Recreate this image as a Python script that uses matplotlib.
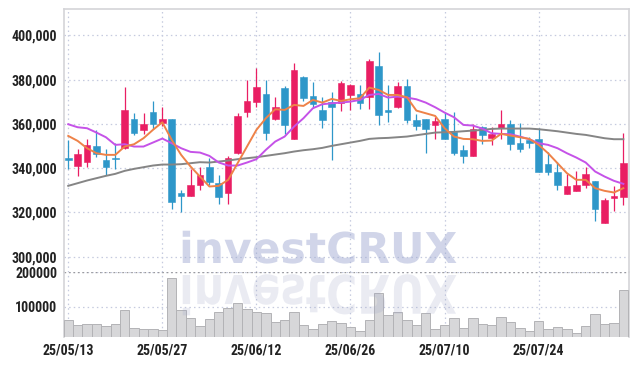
#!/usr/bin/env python3
# -*- coding: utf-8 -*-
"""
일봉 캔들 차트 + 이동평균 + 거래량 재현
"""

import matplotlib
matplotlib.use("Agg")
import matplotlib.pyplot as plt
from matplotlib.textpath import TextPath
from matplotlib.patches import PathPatch
from matplotlib.font_manager import FontProperties
from matplotlib.transforms import Affine2D
from matplotlib.ticker import FuncFormatter

# 시가 / 고가 / 저가 / 종가 (60 거래일)
opens = [344500, 341200, 343000, 350050, 343750, 344400, 349000, 362250, 357450, 365400,
         360300, 362250, 328850, 327650, 332600, 340600, 333500, 329000, 346750, 365550,
         370050, 373550, 362250, 376250, 353400, 381200, 372650, 366300, 369900, 369600,
         373100, 373550, 372350, 386150, 366300, 367800, 377150, 361800, 362250, 359550,
         362250, 356550, 348250, 345700, 358500, 353850, 358350, 360000, 351250, 352750,
         353250, 341950, 338200, 328400, 329900, 332300, 334300, 315150, 326750, 327200]
highs = [352800, 348550, 353100, 357300, 348550, 351250, 376850, 364800, 364800, 370350,
         367500, 362250, 330050, 339550, 340750, 344500, 336850, 345550, 364800, 379850,
         385100, 379850, 372050, 377150, 387650, 381500, 378800, 372050, 374450, 379250,
         378050, 377450, 389150, 392350, 377450, 378950, 380150, 364350, 362250, 363300,
         364800, 365550, 350650, 360000, 359100, 358500, 366300, 361800, 360600, 354000,
         358050, 347500, 343000, 337450, 338500, 340450, 334300, 326450, 332000, 355800]
lows = [339500, 336550, 340600, 345250, 336700, 339550, 348700, 354900, 355350, 357900,
        359100, 321500, 320150, 327650, 330200, 332450, 323900, 323900, 346450, 363300,
        367800, 352600, 361950, 355350, 353100, 370200, 367500, 358050, 343750, 366000,
        366300, 366600, 366600, 359400, 360900, 367050, 360300, 357300, 346750, 353100,
        353100, 346000, 342250, 345700, 350950, 350500, 353250, 348250, 347500, 349000,
        338050, 336950, 330200, 328400, 329900, 330950, 315950, 315150, 320750, 323450]
closes = [344000, 346300, 350350, 346300, 340750, 344200, 366300, 356100, 359850, 359850,
          362250, 324500, 327650, 332450, 337000, 333800, 327200, 344500, 363600, 370350,
          376700, 356100, 367500, 359550, 384350, 371700, 368850, 361950, 367800, 378650,
          377600, 369300, 388400, 364050, 365550, 377150, 361950, 359100, 357900, 361350,
          353100, 347050, 345700, 357750, 355050, 355500, 359850, 351100, 348850, 351550,
          338050, 338050, 332600, 332000, 332450, 337450, 321500, 325700, 327500, 342400]

# 거래량
volumes = [60600, 46200, 49000, 49000, 43300, 49000, 89400, 37500, 34600, 34600,
           31700, 181700, 89400, 66300, 43300, 63500, 83700, 95200, 109600, 92300,
           83700, 80800, 54800, 60600, 83700, 46200, 34600, 49000, 57700, 51900,
           40400, 28800, 60600, 138500, 76900, 83700, 60600, 46200, 80800, 34600,
           46200, 66300, 37500, 66300, 49000, 46200, 69200, 54800, 37500, 28800,
           57700, 34600, 40400, 34600, 23100, 43300, 77900, 49000, 51900, 148100]

# 이동평균
ma5 = [354580, 352320, 349010, 346760, 346010, 346010, 349770, 350820, 353530, 357290,
       360740, 352770, 346010, 340740, 336230, 331720, 332020, 334730, 342250, 349770,
       357290, 362550, 366610, 366310, 368570, 368120, 370820, 369620, 371270, 370370,
       371120, 371570, 376390, 375330, 373080, 373080, 372030, 366010, 364810, 363600,
       358040, 354280, 353230, 353080, 352320, 352470, 355480, 354730, 353980, 353230,
       350520, 346760, 342250, 337740, 334730, 334730, 330970, 329760, 329010, 330970]
ma10 = [359840, 358490, 358040, 356080, 353980, 350520, 350820, 349770, 349770, 351570,
        353380, 351270, 349010, 347360, 347060, 345550, 342550, 341190, 341190, 342550,
        344050, 348260, 352020, 354280, 358790, 362550, 367060, 368870, 369320, 369620,
        370070, 370820, 373080, 373530, 371880, 372330, 371880, 371120, 369620, 367510,
        365110, 363000, 359540, 359240, 357890, 355780, 355480, 355330, 354280, 353080,
        351270, 350520, 349010, 346760, 344800, 342550, 338490, 336230, 334280, 332920]
ma60 = [332020, 333220, 334430, 335480, 336530, 337430, 338790, 339690, 340440, 341190,
        341640, 341640, 341800, 342250, 342700, 342550, 343000, 343450, 344050, 344500,
        344950, 345550, 346160, 346760, 347510, 348110, 348560, 349160, 350070, 350820,
        351570, 352320, 353230, 353530, 353680, 353980, 354280, 354880, 355480, 356080,
        356230, 356380, 356680, 356980, 357290, 357740, 357890, 357890, 357890, 357890,
        357590, 357140, 356680, 356080, 355480, 355030, 354280, 353530, 353080, 353080]

tick_pos = [0, 10, 20, 30, 40, 50]
tick_labels = ["25/05/13", "25/05/27", "25/06/12", "25/06/26", "25/07/10", "25/07/24"]

UP = "#e91e63"
DOWN = "#2e97c9"
GRID = "#c5cadf"
SPINE = "#d4d4d8"
LABEL_FONT = ["Roboto Condensed", "Liberation Sans Narrow", "Liberation Sans", "DejaVu Sans"]
LABEL_SIZE = 10

W, H = 637, 366
fig = plt.figure(figsize=(W / 100, H / 100), dpi=100)
ax = fig.add_axes([64 / W, (H - 272) / H, 565 / W, 263 / H])
axv = fig.add_axes([64 / W, (H - 337) / H, 565 / W, 65 / H], sharex=ax)

x = list(range(len(closes)))

# 캔들
for i in x:
    o, h, l, c = opens[i], highs[i], lows[i], closes[i]
    col = UP if c >= o else DOWN
    ax.vlines(i, l, h, color=col, linewidth=0.9, zorder=3)
    body = max(abs(c - o), 700)
    ax.bar(i, body, bottom=min(o, c) - (body - abs(c - o)) / 2, width=0.7,
           color=col, edgecolor=col, linewidth=0.4, zorder=4)

# 이동평균선
ax.plot(x, ma60, color="#858585", linewidth=1.4, zorder=5)
ax.plot(x, ma10, color="#c552e8", linewidth=1.4, zorder=5)
ax.plot(x, ma5, color="#ee8248", linewidth=1.4, zorder=5)

ax.set_xlim(-0.45, 59.6)
ax.set_ylim(293100, 411900)
ax.set_yticks([300000, 320000, 340000, 360000, 380000, 400000])
ax.yaxis.set_major_formatter(FuncFormatter(lambda v, p: f"{int(v):,}"))
ax.grid(True, color=GRID, linestyle=(0, (1.2, 2.5)), linewidth=0.9)
ax.set_axisbelow(True)
ax.tick_params(axis="both", length=0)
ax.tick_params(axis="y", pad=5, labelsize=LABEL_SIZE, labelcolor="#222222")
ax.tick_params(axis="x", labelbottom=False)
for s in ["top", "left", "right"]:
    ax.spines[s].set_color(SPINE)
    ax.spines[s].set_linewidth(1.2)
ax.spines["bottom"].set_visible(False)
ax.patch.set_alpha(0)

# 거래량
axv.bar(x, volumes, width=1.0, color="#d7d7d9", edgecolor="#b3b3b6", linewidth=0.7, zorder=3)
axv.set_ylim(12700, 200000)
axv.set_yticks([100000, 200000])
axv.yaxis.set_major_formatter(FuncFormatter(lambda v, p: f"{int(v)}"))
axv.grid(True, color=GRID, linestyle=(0, (1.2, 2.5)), linewidth=0.9)
axv.set_axisbelow(True)
axv.axhline(200000, color="#9a9a9e", linestyle=(0, (1.2, 2.0)), linewidth=1.0, zorder=2)
axv.set_xticks(tick_pos)
axv.set_xticklabels(tick_labels)
axv.tick_params(axis="both", length=0)
axv.tick_params(axis="y", pad=5, labelsize=LABEL_SIZE, labelcolor="#222222")
axv.tick_params(axis="x", pad=5, labelsize=LABEL_SIZE, labelcolor="#222222")
for s in ["left", "right"]:
    axv.spines[s].set_color(SPINE)
    axv.spines[s].set_linewidth(1.2)
for s in ["top", "bottom"]:
    axv.spines[s].set_visible(False)
axv.patch.set_alpha(0)

for lab in ax.get_yticklabels() + axv.get_yticklabels() + axv.get_xticklabels():
    lab.set_family(LABEL_FONT)
    lab.set_fontweight("bold")

# 워터마크 (반사 포함)
fp = FontProperties(family="DejaVu Sans", weight="bold")
tp = TextPath((0, 0), "investCRUX", size=42.5, prop=fp)
tw = tp.get_extents().width
x0 = 316 - tw / 2
to_fig = Affine2D().scale(1 / W, 1 / H) + fig.transFigure
main = PathPatch(tp, facecolor="#9fa9d2", edgecolor="none", alpha=0.48,
                 transform=Affine2D().translate(x0, H - 263) + to_fig, zorder=10)
refl = PathPatch(tp, facecolor="#a0a6c8", edgecolor="none", alpha=0.22,
                 transform=Affine2D().scale(1, -1.25).translate(x0, H - 275) + to_fig, zorder=10)
fig.add_artist(main)
fig.add_artist(refl)

fig.savefig("out.png", dpi=100)
